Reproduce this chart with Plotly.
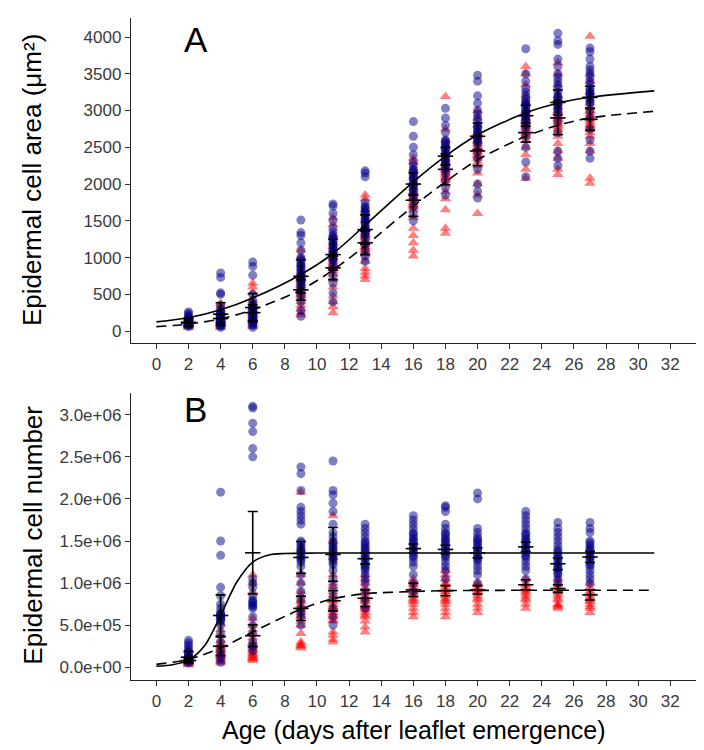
import plotly.graph_objects as go

# ---------------- data ----------------
days = [2, 4, 6, 9, 11, 13, 16, 18, 20, 23, 25, 27]

# Panel A: epidermal cell area (um^2), individual measurements per day
area_blue = [
    [60, 80, 90, 100, 110, 120, 130, 140, 150, 170, 190, 210, 240, 260, 95, 105, 115, 125, 135],
    [50, 70, 90, 110, 130, 150, 180, 200, 230, 260, 300, 350, 500, 520, 730, 790, 100, 120, 140, 160, 170, 190, 210, 250],
    [50, 80, 100, 130, 160, 200, 240, 280, 320, 370, 420, 500, 760, 880, 940, 120, 150, 180, 220, 260, 300, 350],
    [200, 280, 400, 480, 550, 600, 650, 700, 740, 790, 840, 900, 950, 1000, 1100, 1200, 1300, 1340, 1510,
     620, 680, 720, 760, 820, 870, 920, 980],
    [400, 520, 650, 750, 850, 900, 960, 1000, 1050, 1100, 1150, 1200, 1250, 1300, 1400, 1500, 1600, 1700, 1730,
     980, 1020, 1070, 1120, 1170, 1230, 1280, 1350],
    [950, 1020, 1100, 1180, 1250, 1300, 1350, 1400, 1450, 1500, 1550, 1600, 1650, 1700, 1750, 2100, 2150, 2180,
     1320, 1380, 1420, 1480, 1520, 1580, 1620, 1680],
    [1500, 1600, 1700, 1800, 1850, 1900, 1950, 2000, 2050, 2100, 2150, 2200, 2300, 2400, 2500, 2650, 2850,
     1920, 1980, 2020, 2080, 2120, 2180, 2250],
    [1850, 1950, 2050, 2150, 2200, 2250, 2300, 2350, 2400, 2450, 2500, 2550, 2600, 2700, 2800, 2900, 3030,
     2280, 2320, 2380, 2420, 2480, 2530, 2580],
    [1810, 1900, 2000, 2200, 2350, 2450, 2550, 2600, 2650, 2700, 2750, 2800, 2900, 3000, 3100, 3200, 3400, 3480,
     2580, 2620, 2680, 2720, 2780, 2850, 2950],
    [2100, 2300, 2500, 2650, 2750, 2800, 2850, 2900, 2950, 3000, 3050, 3100, 3150, 3200, 3300, 3400, 3500, 3840,
     2880, 2920, 2980, 3020, 3080, 3120, 3250],
    [2250, 2350, 2450, 2700, 2850, 2950, 3000, 3050, 3100, 3150, 3200, 3300, 3400, 3500, 3600, 3700, 3900, 3950, 4050,
     3020, 3080, 3120, 3180, 3250, 3350, 3450],
    [2350, 2450, 2600, 2750, 2900, 3000, 3100, 3150, 3200, 3250, 3300, 3400, 3500, 3600, 3700, 3800, 3850,
     3120, 3180, 3230, 3280, 3350, 3450, 3550],
]
area_red = [
    [50, 60, 70, 80, 90, 100, 110, 120, 140, 160, 180, 200, 85, 95, 105, 115, 130],
    [50, 60, 80, 100, 120, 140, 160, 180, 200, 230, 260, 300, 340, 380, 90, 110, 150, 170, 190, 210, 240],
    [60, 80, 100, 130, 160, 190, 220, 250, 280, 320, 360, 420, 520, 600, 650, 140, 180, 210, 240, 270, 300, 340],
    [220, 250, 300, 350, 400, 450, 500, 550, 600, 650, 700, 750, 800, 900, 1000, 1100, 480, 520, 580, 620, 680, 720, 780],
    [250, 330, 400, 480, 600, 700, 780, 850, 900, 950, 1000, 1100, 1200, 1300, 1450, 1540, 820, 880, 920, 980, 1050, 1150],
    [700, 750, 800, 850, 950, 1050, 1100, 1150, 1200, 1250, 1300, 1350, 1400, 1500, 1650, 1800, 1850,
     1080, 1130, 1180, 1220, 1280, 1320, 1380],
    [1020, 1100, 1200, 1300, 1400, 1550, 1650, 1700, 1750, 1800, 1850, 1900, 2000, 2100, 2200, 2300, 2350,
     1680, 1720, 1780, 1820, 1880, 1950],
    [1330, 1400, 1650, 1800, 1900, 2000, 2050, 2100, 2150, 2200, 2250, 2300, 2400, 2500, 2600, 2750, 3190,
     2080, 2130, 2180, 2230, 2280, 2350],
    [1600, 1850, 2000, 2150, 2250, 2300, 2350, 2400, 2450, 2500, 2550, 2600, 2700, 2800, 2900, 3000,
     2380, 2430, 2480, 2530, 2580, 2650],
    [2080, 2200, 2400, 2500, 2600, 2650, 2700, 2750, 2800, 2850, 2900, 3000, 3100, 3200, 3350, 3500, 3600,
     2680, 2720, 2780, 2820, 2880, 2950],
    [2130, 2200, 2350, 2450, 2550, 2650, 2700, 2750, 2800, 2850, 2900, 3000, 3100, 3200, 3350, 3500, 3650,
     2780, 2820, 2880, 2920, 2980, 3050],
    [2010, 2080, 2450, 2550, 2650, 2700, 2750, 2800, 2850, 2900, 2950, 3000, 3100, 3250, 3400, 3500, 4010,
     2780, 2820, 2880, 2920, 2980, 3050],
]
area_blue_mean = [120, 230, 320, 745, 1040, 1380, 2000, 2380, 2650, 2930, 3110, 3180]
area_blue_err = [60, 155, 190, 225, 210, 200, 150, 120, 180, 140, 170, 150]
area_red_mean = [110, 170, 250, 560, 860, 1200, 1780, 2200, 2450, 2700, 2900, 2880]
area_red_err = [40, 60, 110, 140, 160, 160, 220, 210, 200, 130, 230, 150]

fit_x = [0, 2, 4, 6, 9, 11, 13, 16, 18, 20, 23, 25, 27, 31]
area_fit_blue = [125, 182, 290, 450, 770, 1055, 1440, 2030, 2380, 2670, 2970, 3100, 3180, 3268]
area_fit_red = [60, 95, 165, 290, 560, 830, 1160, 1700, 2030, 2330, 2650, 2800, 2900, 2990]

# Panel B: epidermal cell number (thousands of cells)
num_blue_k = [
    [50, 70, 80, 90, 100, 110, 120, 140, 160, 180, 200, 230, 260, 290, 320, 85, 95, 105, 115, 130],
    [60, 100, 150, 200, 300, 400, 500, 560, 600, 620, 650, 750, 850, 950, 1330, 1500, 2080, 550, 580, 610, 640, 700],
    [200, 250, 300, 400, 500, 600, 740, 760, 850, 950, 1000, 1050, 2500, 2600, 2800, 2900, 3080, 3100, 700, 720, 780, 800],
    [500, 600, 650, 700, 800, 900, 1000, 1100, 1200, 1300, 1350, 1400, 1450, 1500, 1700, 1750, 1800, 1850, 1900, 2100,
     2300, 2380, 1250, 1280, 1320, 1380, 1420, 1480],
    [500, 600, 700, 850, 950, 1050, 1150, 1250, 1300, 1350, 1400, 1450, 1500, 1600, 1700, 1850, 1950, 2050, 2100, 2450,
     1220, 1280, 1320, 1380, 1420, 1480, 1550],
    [700, 800, 900, 1000, 1050, 1100, 1150, 1200, 1250, 1300, 1350, 1400, 1450, 1500, 1550, 1600, 1650, 1700,
     1180, 1220, 1280, 1320, 1380, 1420, 1480],
    [900, 1000, 1100, 1200, 1250, 1300, 1350, 1400, 1450, 1500, 1550, 1600, 1650, 1700, 1750, 1800,
     1320, 1380, 1420, 1480, 1520, 1580],
    [1050, 1150, 1200, 1250, 1300, 1350, 1400, 1450, 1500, 1550, 1600, 1650, 1700, 1850, 1900, 1920,
     1320, 1380, 1420, 1480, 1520, 1580],
    [1000, 1100, 1150, 1200, 1250, 1300, 1350, 1400, 1450, 1500, 1550, 1600, 1650, 2000, 2070,
     1280, 1320, 1380, 1420, 1480, 1520],
    [1050, 1150, 1200, 1250, 1300, 1350, 1400, 1450, 1500, 1550, 1600, 1650, 1700, 1750, 1800, 1850,
     1320, 1380, 1420, 1480, 1520, 1580],
    [1000, 1050, 1100, 1150, 1200, 1250, 1300, 1350, 1400, 1450, 1500, 1550, 1600, 1650, 1720,
     1120, 1180, 1220, 1280, 1320, 1380],
    [1000, 1050, 1100, 1150, 1200, 1250, 1300, 1350, 1400, 1450, 1500, 1600, 1650, 1720,
     1220, 1280, 1320, 1380, 1420, 1480],
]
num_red_k = [
    [30, 40, 50, 60, 70, 80, 90, 100, 120, 150, 200, 55, 65, 75, 85],
    [50, 70, 90, 110, 130, 150, 180, 210, 250, 280, 320, 380, 450, 520, 600, 140, 160, 200, 230, 260],
    [80, 100, 120, 160, 200, 250, 300, 350, 400, 450, 500, 580, 900, 1000, 1100, 100, 130, 150, 180, 220, 280],
    [230, 260, 300, 400, 500, 550, 600, 650, 700, 750, 800, 850, 900, 1000, 1100, 1400, 2080, 250, 280, 620, 680, 720, 780],
    [300, 330, 380, 420, 550, 600, 650, 700, 750, 800, 850, 900, 950, 1000, 1100, 1300, 1500, 1800,
     560, 620, 680, 720, 780, 820],
    [420, 480, 550, 600, 650, 700, 750, 800, 850, 900, 950, 1000, 1050, 1100, 620, 680, 720, 780, 820, 880],
    [600, 650, 700, 750, 800, 850, 900, 950, 1000, 1050, 780, 820, 880, 920, 980],
    [600, 650, 700, 750, 800, 850, 900, 950, 1000, 1050, 1100, 1150, 780, 820, 880, 920, 980],
    [650, 700, 750, 800, 850, 900, 950, 1000, 820, 880, 920, 980],
    [700, 750, 800, 850, 900, 950, 1000, 1050, 820, 880, 920, 980],
    [700, 750, 800, 850, 900, 950, 1000, 1050, 820, 880, 920, 980, 720, 740],
    [650, 700, 750, 800, 850, 900, 950, 1000, 720, 780, 820, 880],
]
num_blue_mean_k = [120, 615, 1360, 1305, 1340, 1290, 1410, 1400, 1360, 1430, 1230, 1310]
num_blue_err_k = [70, 245, 490, 190, 320, 65, 55, 50, 60, 55, 70, 65]
num_red_mean_k = [80, 250, 375, 700, 790, 820, 920, 910, 920, 980, 935, 860]
num_red_err_k = [20, 110, 130, 145, 120, 100, 80, 60, 50, 60, 45, 60]

num_fit_blue_x = [0, 1, 2, 3, 4, 5, 6, 7, 8, 10, 15, 20, 25, 31]
num_fit_blue_k = [12, 30, 85, 255, 615, 1010, 1250, 1335, 1352, 1357, 1357, 1357, 1357, 1357]
num_fit_red_k = [35, 94, 230, 420, 690, 815, 874, 900, 910, 913, 915, 915, 915, 915]

num_yticks = [0, 500000, 1000000, 1500000, 2000000, 2500000, 3000000]
num_yticklabels = ["0.0e+00", "5.0e+05", "1.0e+06", "1.5e+06", "2.0e+06", "2.5e+06", "3.0e+06"]
area_yticks = [0, 500, 1000, 1500, 2000, 2500, 3000, 3500, 4000]
xticks = list(range(0, 33, 2))

# ---------------- figure ----------------
BLUE = "rgba(0,0,140,0.5)"
RED = "rgba(255,0,0,0.5)"
K = 1000
FONT = "Liberation Sans, Arial, sans-serif"
DASH = "10px,6px"

fig = go.Figure()


def add_points(values, color, symbol, size, xa, ya, scale=1):
    xs, ys = [], []
    for d, vals in zip(days, values):
        xs += [d] * len(vals)
        ys += [v * scale for v in vals]
    fig.add_trace(go.Scatter(x=xs, y=ys, mode="markers", xaxis=xa, yaxis=ya,
                             marker=dict(symbol=symbol, size=size, color=color, line=dict(width=0)),
                             showlegend=False, hoverinfo="skip"))


def add_errbar(mean, err, xa, ya, scale=1):
    fig.add_trace(go.Scatter(x=days, y=[m * scale for m in mean], mode="markers", xaxis=xa, yaxis=ya,
                             marker=dict(symbol="line-ew", size=11, color="black",
                                         line=dict(width=1.6, color="black")),
                             error_y=dict(type="data", array=[e * scale for e in err], color="black",
                                          thickness=1.6, width=5),
                             showlegend=False, hoverinfo="skip"))


def add_curve(xs, ys, dash, xa, ya, scale=1):
    fig.add_trace(go.Scatter(x=xs, y=[v * scale for v in ys], mode="lines", xaxis=xa, yaxis=ya,
                             line=dict(color="black", width=1.6, dash=dash, shape="spline", smoothing=0.8),
                             showlegend=False, hoverinfo="skip"))


# Panel A
add_points(area_red, RED, "triangle-up", 10, "x", "y")
add_points(area_blue, BLUE, "circle", 9, "x", "y")
add_curve(fit_x, area_fit_blue, "solid", "x", "y")
add_curve(fit_x, area_fit_red, DASH, "x", "y")
add_errbar(area_blue_mean, area_blue_err, "x", "y")
add_errbar(area_red_mean, area_red_err, "x", "y")

# Panel B
add_points(num_red_k, RED, "triangle-up", 10, "x2", "y2", K)
add_points(num_blue_k, BLUE, "circle", 9, "x2", "y2", K)
add_curve(num_fit_blue_x, num_fit_blue_k, "solid", "x2", "y2", K)
add_curve(fit_x, num_fit_red_k, DASH, "x2", "y2", K)
add_errbar(num_blue_mean_k, num_blue_err_k, "x2", "y2", K)
add_errbar(num_red_mean_k, num_red_err_k, "x2", "y2", K)

axis_common = dict(showline=True, linecolor="#222", linewidth=1.4, ticks="outside", ticklen=5,
                   tickcolor="#333", tickwidth=1.2, showgrid=False, zeroline=False,
                   tickfont=dict(family=FONT, size=17, color="#3a3a3a"))

fig.update_layout(
    width=704, height=750,
    margin=dict(l=123, r=16, t=10, b=78),
    plot_bgcolor="white", paper_bgcolor="white",
    font=dict(family=FONT, color="black"),
    xaxis=dict(domain=[0, 1], anchor="y", range=[-1.58, 33.6], tickvals=xticks, **axis_common),
    yaxis=dict(domain=[0.509, 1], anchor="x", range=[-163, 4259], tickvals=area_yticks, **axis_common),
    xaxis2=dict(domain=[0, 1], anchor="y2", range=[-1.58, 33.6], tickvals=xticks, **axis_common),
    yaxis2=dict(domain=[0, 0.4335], anchor="x2", range=[-151000, 3258000], tickvals=num_yticks,
                ticktext=num_yticklabels, **axis_common),
    annotations=[
        dict(text="A", x=0.115, y=0.968, xref="paper", yref="paper", showarrow=False,
             font=dict(size=35, color="black"), xanchor="center", yanchor="middle"),
        dict(text="B", x=0.115, y=0.408, xref="paper", yref="paper", showarrow=False,
             font=dict(size=35, color="black"), xanchor="center", yanchor="middle"),
        dict(text="Epidermal cell area (μm²)", textangle=-90, x=-0.176, y=0.7545, xref="paper", yref="paper",
             showarrow=False, font=dict(size=26, color="black"), xanchor="center", yanchor="middle"),
        dict(text="Epidermal cell number", textangle=-90, x=-0.174, y=0.219, xref="paper", yref="paper",
             showarrow=False, font=dict(size=26, color="black"), xanchor="center", yanchor="middle"),
        dict(text="Age (days after leaflet emergence)", x=0.5, y=-0.0755, xref="paper", yref="paper",
             showarrow=False, font=dict(size=25, color="black"), xanchor="center", yanchor="middle"),
    ],
)

fig.write_html("out.html")
